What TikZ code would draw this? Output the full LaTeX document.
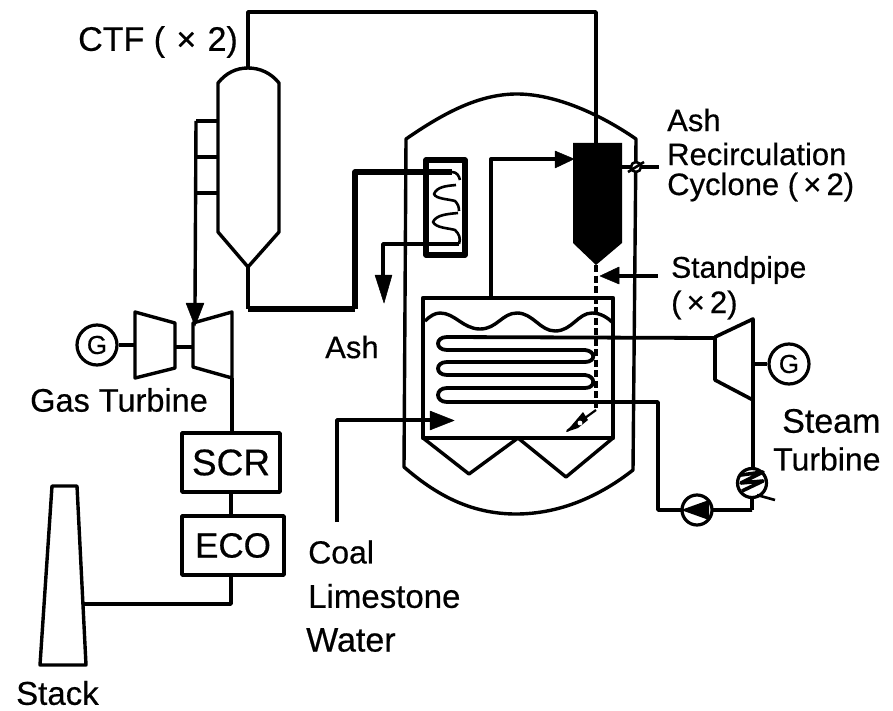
\documentclass[tikz,border=0pt]{standalone}
\usepackage{fontspec}
\setmainfont[FakeBold=0.5]{Liberation Sans}
\begin{document}
\begin{tikzpicture}[x=1pt,y=-1pt,line join=round,
  pipe/.style={draw=black,line width=3.4pt},
  heavy/.style={draw=black,line width=5.2pt},
  lbl/.style={anchor=west,inner sep=0pt,font=\fontsize{31}{31}\selectfont,text=black},
  unit/.style={draw=black,line width=3.8pt,inner sep=0pt,text=black,fill=white},
  gen/.style={circle,draw=black,line width=3.2pt,inner sep=0pt,minimum size=40pt,font=\fontsize{26}{26}\selectfont,fill=white},
  ring/.style={circle,draw=black,line width=3.2pt,inner sep=0pt,fill=white},
  tip/.style={fill=black,draw=black,line width=.5pt}]
\useasboundingbox[fill=white] (0,0) rectangle (893,711);

% ---- named points
\coordinate (ctfTop) at (248,68);
\coordinate (ctfBot) at (248,267);
\coordinate (cornerTL) at (248,12);
\coordinate (cornerTR) at (596,12);
\coordinate (cycTop) at (596,143);
\coordinate (cycBot) at (596,265);
\coordinate (riserB) at (491,298);
\coordinate (riserT) at (491,159);
\coordinate (cycIn) at (560,159);
\coordinate (bedL) at (248,309);
\coordinate (bedM) at (355,309);
\coordinate (hxIn) at (355,172);
\coordinate (ashC) at (383,244);
\coordinate (ashE) at (383,278);
\coordinate (airT) at (196,121);
\coordinate (airE) at (195,305);
\coordinate (gtOut) at (232,378);
\coordinate (stackIn) at (84,604);
\coordinate (ecoC) at (231,604);
\coordinate (coalS) at (337,522);
\coordinate (coalC) at (337,420);
\coordinate (coalE) at (432,420);
\coordinate (spE) at (658,276);
\coordinate (spT) at (618,276);
\coordinate (rcE) at (659,167);
\coordinate (rcS) at (622,167);
\coordinate (coilR) at (658,402);
\coordinate (coilC) at (658,510);
\coordinate (condC) at (752,510);
\coordinate (stOut) at (753,400);

% ---- CTF vessel
\draw[pipe] (ctfBot) -- (218,232) -- (218,83) .. controls (226,73) and (236,68) .. (ctfTop)
  .. controls (260,68) and (271,73) .. (279,83) -- (279,232) -- cycle;
\draw[pipe] (ctfTop) -- (cornerTL) -- (cornerTR) -- (cycTop);
\draw[pipe] (218,121) -- (airT) (196,157) -- (218,157) (196,193) -- (218,193);
\draw[pipe] (airT) -- (airE);
\fill[tip] (186,303) -- (204,303) -- (195,326) -- cycle;

% ---- pressure vessel
\draw[pipe] (406,139) .. controls (445,112) and (480,94) .. (517,94)
  .. controls (555,94) and (600,114) .. (636,139) -- (633,470)
  .. controls (600,496) and (560,514) .. (516,514)
  .. controls (470,514) and (435,494) .. (404,467) -- cycle;

% ---- bed
\draw[pipe] (ctfBot) -- (bedL);
\draw[draw=black,line width=6pt] (bedL) -- (bedM);
\draw[heavy] (bedM) -- (hxIn) -- (452,172);
\draw[draw=black,line width=4.2pt] (423,298) rectangle (613,438);
\draw[pipe] (423,438) -- (469,474) -- (518,438) -- (566,477) -- (613,438);
\draw[pipe] (425,321) .. controls (430,316) and (435,313) .. (440,313)
  .. controls (455,313) and (463,329) .. (480,329)
  .. controls (497,329) and (502,313) .. (517,313)
  .. controls (533,313) and (540,331) .. (555,331)
  .. controls (572,331) and (578,313) .. (592,313)
  .. controls (600,313) and (607,317) .. (613,323);

% ---- coil
\draw[line width=3.8pt] (715,338) -- (447,337) .. controls (435,337) and (435,350) .. (447,350)
  -- (585,350) .. controls (596,351) and (596,362) .. (585,362)
  -- (447,362) .. controls (435,362) and (435,375) .. (447,375)
  -- (585,375) .. controls (596,376) and (596,388) .. (585,388)
  -- (447,388) .. controls (435,388) and (435,402) .. (447,402)
  -- (coilR) -- (coilC) -- (condC);

% ---- heat exchanger
\draw[heavy] (426,160) rectangle (465,255);
\draw[line width=2.6pt] (452,172) .. controls (457,172) and (459,176) .. (460,180);
\draw[line width=2.6pt] (456,185) .. controls (445,186) and (437,187) .. (434,194)
  .. controls (436,199) and (448,199) .. (455,201) .. controls (458,204) and (459,207) .. (459,211);
\draw[line width=2.6pt] (458,213) .. controls (447,214) and (436,215) .. (433,222)
  .. controls (436,228) and (448,228) .. (455,230) .. controls (459,234) and (461,238) .. (459,244);
\draw[draw=black,line width=3.8pt] (459,244) -- (ashC) -- (ashE);
\fill[tip] (375,275) -- (392,275) -- (384,303) -- cycle;

% ---- cyclone
\fill[black] (573,143) -- (622,143) -- (622,243) -- (cycBot) -- (573,243) -- cycle;
\draw[pipe] (riserB) -- (riserT) -- (cycIn);
\fill[tip] (555,151) -- (574,159) -- (555,168) -- cycle;
\draw[line width=3.6pt,dash pattern=on 7pt off 3.5pt] (cycBot) -- (596,408);
\draw[pipe] (spT) -- (spE);
\fill[tip] (619,267) -- (600,276) -- (619,284) -- cycle;

% ---- valves
\draw[line width=2.2pt] (596,410) -- (567,431);
\fill[black] (566,432) -- (583,412) -- (588,420) -- (578,428) -- cycle;
\fill[white] (580,423) circle (2.4pt);
\draw[pipe] (rcS) -- (rcE);
\draw[line width=2.6pt,fill=white] (636,167) circle (5pt);
\draw[line width=2.6pt] (628,172) -- (644,162);

% ---- gas turbine
\node[gen] (gA) at (97,345) {G};
\draw[pipe] (135,312) -- (175,323) -- (175,368) -- (135,378) -- cycle;
\draw[pipe] (193,323) -- (232,312) -- (gtOut) -- (193,367) -- cycle;
\draw[pipe] (gA) -- (135,345);
\draw[pipe] (175,347) -- (193,347);
\node[unit,minimum width=98pt,minimum height=59pt,font=\fontsize{37}{37}\selectfont] (scr) at (231,462.5) {SCR};
\node[unit,minimum width=102pt,minimum height=59pt,font=\fontsize{35}{35}\selectfont] (eco) at (233,545.5) {ECO};
\draw[pipe] (gtOut) -- (scr.north -| gtOut);
\draw[pipe] (scr.south -| 231,0) -- (eco.north -| 231,0);
\draw[pipe] (eco.south -| ecoC) -- (ecoC) -- (stackIn);

% ---- stack
\draw[pipe] (52,486) -- (77,486) -- (86,665) -- (40,665) -- cycle;

% ---- coal
\draw[pipe] (coalS) -- (coalC) -- (coalE);
\fill[tip] (430,411) -- (454,420.5) -- (430,430) -- cycle;

% ---- steam turbine
\draw[line width=3.6pt,fill=white] (715,337) -- (753,319) -- (stOut) -- (715,380) -- cycle;
\node[gen] (gB) at (789,364) {G};
\draw[pipe] (753,364) -- (gB);
\draw[pipe] (stOut) -- (753,469);
\draw[pipe] (752,497) -- (condC);
\node[ring,minimum size=29pt] (cond) at (752,483) {};
\draw[line width=3.6pt] (741,475) -- (763,472) -- (741,483) -- (763,481) -- (742,491);
\draw[line width=2.6pt] (757,495) -- (775,500);
\node[ring,minimum size=30pt] (pump) at (697,510) {};
\fill[black] (681,510) -- (709,500) -- (709,520) -- cycle;

% ---- labels
\node[lbl,font=\fontsize{34}{34}\selectfont] (tCTF) at (78,42) {CTF (\,\,×\,\,2)};
\node[lbl] (tAsh1) at (667,120) {Ash};
\node[lbl] (tRec) at (667,154) {Recirculation};
\node[lbl] (tCyc) at (667,187) {Cyclone (\,×\,2)};
\node[lbl,font=\fontsize{30}{30}\selectfont] (tStd) at (671,270) {Standpipe};
\node[lbl] (tStd2) at (671,305) {(\,×\,2)};
\node[lbl] (tAsh2) at (325,347) {Ash};
\node[lbl,font=\fontsize{32.5}{33}\selectfont] (tGT) at (30,400) {Gas Turbine};
\node[lbl,font=\fontsize{34}{34}\selectfont] (tSt1) at (782,421) {Steam};
\node[lbl,font=\fontsize{32}{32}\selectfont] (tSt2) at (773,459) {Turbine};
\node[lbl,font=\fontsize{32}{32}\selectfont] (tCoal) at (308,552) {Coal};
\node[lbl,font=\fontsize{33}{33}\selectfont] (tLime) at (308,596) {Limestone};
\node[lbl,font=\fontsize{34}{34}\selectfont] (tWat) at (306,640) {Water};
\node[lbl,font=\fontsize{33}{33}\selectfont] (tStack) at (16,693) {Stack};
\end{tikzpicture}
\end{document}
